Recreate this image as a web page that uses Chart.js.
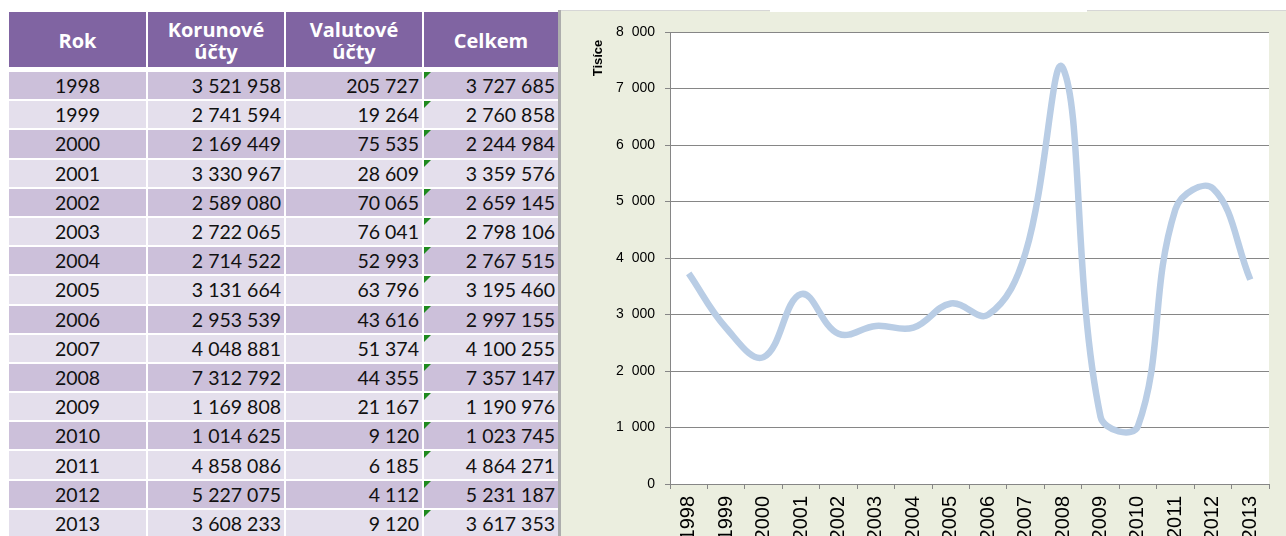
<!DOCTYPE html>
<html>
<head>
<meta charset="utf-8">
<script src="https://cdn.jsdelivr.net/npm/chart.js@4"></script>
<style>
  html, body { margin: 0; padding: 0; background: #fff; }
  body { width: 1286px; height: 536px; overflow: hidden; position: relative; }
  #tbl {
    position: absolute; left: 7px; top: 10px;
    border-collapse: separate; border-spacing: 2px;
    table-layout: fixed;
    font-family: "Lato", "Open Sans", sans-serif;
    font-size: 19.5px; color: #111;
  }
  #tbl th {
    background: #8064A2; color: #fff; font-weight: bold;
    font-family: "Open Sans", sans-serif; font-size: 20px;
    height: 58px; padding: 2px 4px 0 4px; box-sizing: border-box;
    border-bottom: 3px solid #fff; line-height: 22px;
  }
  #tbl td {
    height: 27.2px; padding: 0 3px 0 3px; box-sizing: border-box;
    text-align: right; line-height: 27px; position: relative; white-space: nowrap;
  }
  #tbl td.yr { text-align: center; }
  #tbl tr.odd td { background: #CCC0DA; }
  #tbl tr.even td { background: #E4DFEC; }
  #tbl td.flag::before {
    content: ""; position: absolute; left: 0; top: 0;
    border-top: 7px solid #1E8A1E; border-right: 7px solid transparent;
  }
  #chartBox {
    position: absolute; left: 560px; top: 10px; width: 726px; height: 526px;
    background: #EBEEDF; border-top: 1px solid #D6D6D6; box-sizing: border-box;
  }
  #edge { position: absolute; left: 558px; top: 10px; width: 3px; height: 526px; background: #ADADAD; }
  #gap { position: absolute; left: 770px; top: 0; width: 317px; height: 12px; background: #fff; }
  canvas { display: block; }
</style>
</head>
<body>
<table id="tbl">
  <colgroup><col style="width:137px"><col style="width:136px"><col style="width:136px"><col style="width:134px"></colgroup>
  <thead><tr id="head"></tr></thead>
  <tbody id="rows"></tbody>
</table>
<div id="chartBox"><canvas id="c" width="726" height="525"></canvas></div>
<div id="edge"></div>
<div id="gap"></div>
<script>
const headers = ["Rok", "Korunové<br>účty", "Valutové<br>účty", "Celkem"];
const years = ["1998", "1999", "2000", "2001", "2002", "2003", "2004", "2005",
  "2006", "2007", "2008", "2009", "2010", "2011", "2012", "2013"];
const korunove = [3521958, 2741594, 2169449, 3330967, 2589080, 2722065, 2714522, 3131664,
  2953539, 4048881, 7312792, 1169808, 1014625, 4858086, 5227075, 3608233];
const valutove = [205727, 19264, 75535, 28609, 70065, 76041, 52993, 63796,
  43616, 51374, 44355, 21167, 9120, 6185, 4112, 9120];
const celkem = [3727685, 2760858, 2244984, 3359576, 2659145, 2798106, 2767515, 3195460,
  2997155, 4100255, 7357147, 1190976, 1023745, 4864271, 5231187, 3617353];
const yTicks = [0, 1000, 2000, 3000, 4000, 5000, 6000, 7000, 8000];
const yTitle = "Tisíce";

function fmt(n) {
  return String(Math.round(n)).replace(/\B(?=(\d{3})+(?!\d))/g, " ");
}

// table
document.getElementById("head").innerHTML = headers.map(h => "<th>" + h + "</th>").join("");
document.getElementById("rows").innerHTML = years.map((y, i) =>
  '<tr class="' + (i % 2 ? "even" : "odd") + '">' +
  '<td class="yr">' + y + "</td>" +
  "<td>" + fmt(korunove[i]) + "</td>" +
  "<td>" + fmt(valutove[i]) + "</td>" +
  '<td class="flag">' + fmt(celkem[i]) + "</td></tr>").join("");

// chart shows values in thousands ("Tisíce")
const celkemTis = celkem.map(v => v / 1000);

const plotBg = {
  id: "plotBg",
  beforeDraw(chart) {
    const { ctx, chartArea: a } = chart;
    ctx.save();
    ctx.fillStyle = "#fff";
    ctx.fillRect(a.left, a.top, a.right - a.left, a.bottom - a.top);
    ctx.restore();
  }
};

// display-units label at the top of the value axis
const unitLabel = {
  id: "unitLabel",
  afterDraw(chart) {
    const { ctx, chartArea: a } = chart;
    ctx.save();
    ctx.translate(a.left - 72, a.top + 26);
    ctx.rotate(-Math.PI / 2);
    ctx.font = "bold 13px 'Liberation Sans', Arial, sans-serif";
    ctx.fillStyle = "#000";
    ctx.textAlign = "center";
    ctx.textBaseline = "middle";
    ctx.fillText(yTitle, 0, 0);
    ctx.restore();
  }
};

new Chart(document.getElementById("c"), {
  type: "line",
  data: {
    labels: years,
    datasets: [{
      label: "Celkem",
      data: celkemTis,
      borderColor: "#B9CDE5",
      borderWidth: 6.5,
      borderJoinStyle: "round",
      pointRadius: 0,
      tension: 0.4
    }]
  },
  options: {
    responsive: false,
    animation: false,
    layout: { padding: { top: 21, right: 17, left: 0, bottom: 0 } },
    plugins: { legend: { display: false }, tooltip: { enabled: false } },
    scales: {
      x: {
        offset: true,
        grid: { offset: true, drawOnChartArea: false, drawTicks: true, tickLength: 5, color: "#868686" },
        border: { color: "#868686" },
        ticks: { minRotation: 90, maxRotation: 90, padding: 7, autoSkip: false, color: "#000",
          font: { family: "Liberation Sans", size: 20 } },
        afterFit(scale) { scale.height = 52; }
      },
      y: {
        min: yTicks[0], max: yTicks[yTicks.length - 1],
        grid: { color: "#868686", tickLength: 5 },
        border: { color: "#868686" },
        ticks: { stepSize: yTicks[1] - yTicks[0], padding: 10, color: "#000",
          font: { family: "Liberation Sans", size: 14 },
          callback: v => fmt(v).replace(" ", "\u2007") },
        afterFit(scale) { scale.width = 110; }
      }
    }
  },
  plugins: [plotBg, unitLabel]
});
</script>
</body>
</html>
